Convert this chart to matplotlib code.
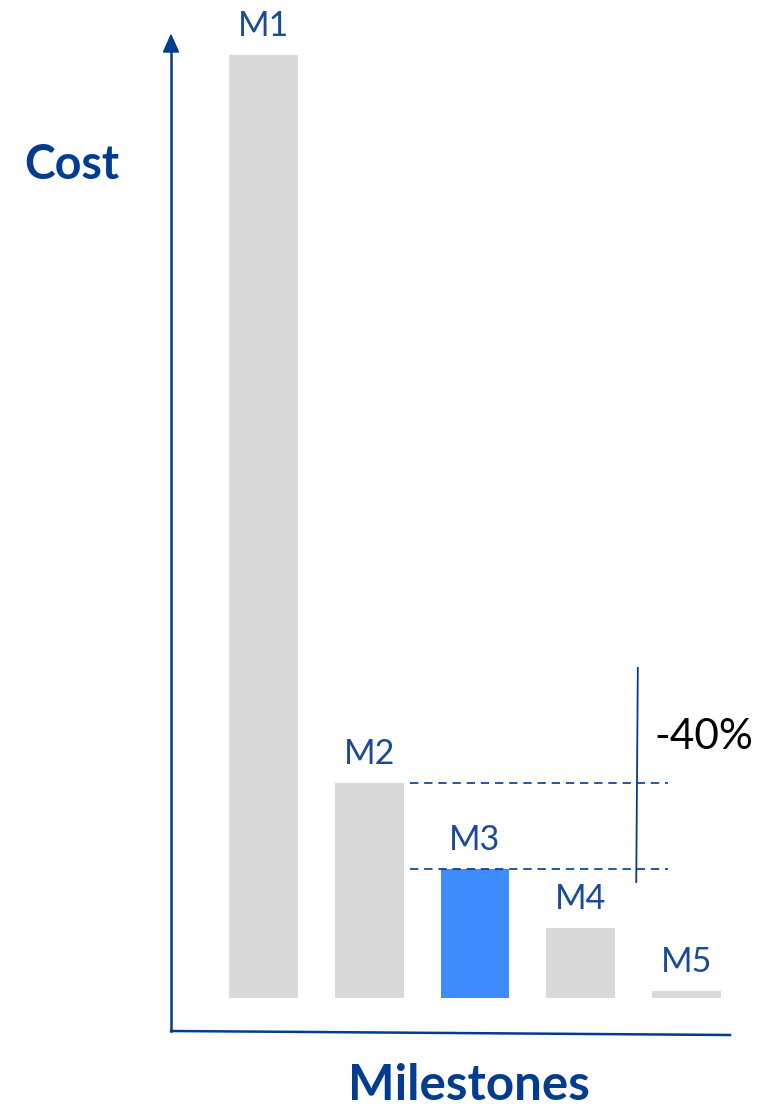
import matplotlib
matplotlib.use("Agg")
import matplotlib.pyplot as plt
from matplotlib.lines import Line2D

# Data
milestones = ["M1", "M2", "M3", "M4", "M5"]
cost = [100.0, 22.8, 13.7, 7.4, 0.75]
highlight = "M3"
change_label = "-40%"

DARK_BLUE = "#003C8F"
LABEL_BLUE = "#1A4A99"
GREY = "#D9D9D9"
BRIGHT_BLUE = "#3D8BFD"
FONT = ["Lato", "DejaVu Sans"]

W, H = 766, 1108
fig = plt.figure(figsize=(W / 100, H / 100), dpi=100)
ax = fig.add_axes([210.6 / W, (H - 998) / H, 528.75 / W, (998 - 55) / H])
ax.set_xlim(-0.5, len(milestones) - 0.5)
ax.set_ylim(0, 100)
ax.axis("off")

xs = list(range(len(milestones)))
colors = [BRIGHT_BLUE if m == highlight else GREY for m in milestones]
ax.bar(xs, cost, width=0.652, color=colors, linewidth=0)

for x, v, m in zip(xs, cost, milestones):
    ax.annotate(m, (x, v), xytext=(0, 13.5), textcoords="offset points",
                ha="center", va="baseline", fontsize=24.5, color=LABEL_BLUE,
                family=FONT, annotation_clip=False)

# Reference lines between M2 and M3
for v in cost[1:3]:
    ax.plot([1.386, 3.825], [v, v], color=DARK_BLUE, lw=1.2,
            ls=(0, (5, 3.5)), clip_on=False)
ax.plot([3.540, 3.525], [35.0, 12.3], color=DARK_BLUE, lw=1.3, clip_on=False)
ax.text(3.70, 27.7, change_label, fontsize=30.5, color="black", family=FONT,
        ha="left", va="center")

# Hand-drawn style axes
def fx(px):
    return px / W

def fy(py):
    return 1 - py / H

fig.add_artist(Line2D([fx(171), fx(730)], [fy(1031), fy(1035)],
                      transform=fig.transFigure, color=DARK_BLUE, lw=1.8))
fig.add_artist(Line2D([fx(171), fx(171)], [fy(1031), fy(50)],
                      transform=fig.transFigure, color=DARK_BLUE, lw=1.8))
fig.patches.append(plt.Polygon([(fx(163.5), fy(52)), (fx(178.5), fy(52)), (fx(171), fy(35))],
                               closed=True, transform=fig.transFigure,
                               color=DARK_BLUE, figure=fig))

fig.text(fx(72), fy(165), "Cost", fontsize=33.5, fontweight="bold", color=DARK_BLUE,
         family=FONT, ha="center", va="center")
fig.text(fx(469), fy(1085), "Milestones", fontsize=35.5, fontweight="bold",
         color=DARK_BLUE, family=FONT, ha="center", va="center")

fig.savefig("out.png", dpi=100)
